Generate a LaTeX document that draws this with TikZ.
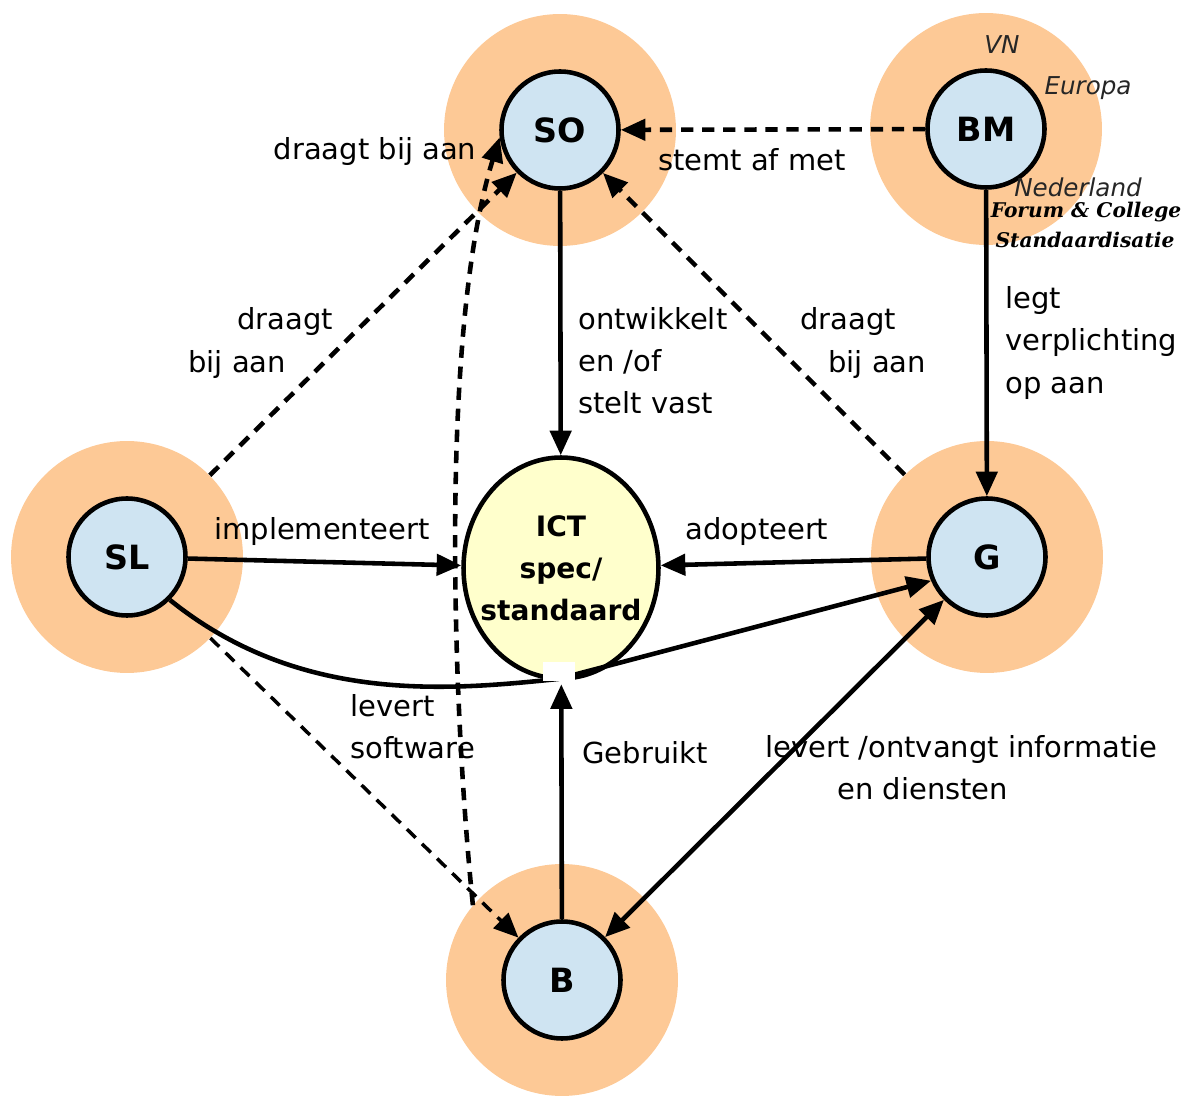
\documentclass[tikz,border=0pt]{standalone}
\usepackage{fontspec}
\setmainfont{DejaVu Sans}
\newfontfamily\forumfont{DejaVu Serif}
\usetikzlibrary{arrows.meta,shapes.geometric}
\definecolor{halokleur}{RGB}{253,201,150}
\definecolor{rolkleur}{RGB}{207,228,242}
\definecolor{standkleur}{RGB}{255,255,204}

\begin{document}
\begin{tikzpicture}[x=0.02cm, y=-0.02cm,
    halo/.style={circle, fill=halokleur, minimum size=4.64cm, inner sep=0pt},
    rol/.style={circle, draw, line width=2.6pt, fill=rolkleur, minimum size=2.34cm, inner sep=0pt,
      font=\fontsize{19}{22}\selectfont\bfseries},
    spec/.style={ellipse, draw, line width=2.6pt, fill=standkleur, minimum width=3.9cm,
      minimum height=4.42cm, inner xsep=-20pt, inner ysep=0pt, align=center,
      font=\fontsize{16}{24}\selectfont\bfseries},
    pijl/.style={line width=2.6pt, -{Triangle[length=14pt,width=12pt]}},
    stippel/.style={pijl, dash pattern=on 7pt off 5pt},
    lbl/.style={font=\fontsize{16.5}{24}\selectfont, align=left, inner sep=0pt},
    org/.style={font=\fontsize{14}{16}\selectfont\itshape, inner sep=0pt, text=black!85},
    forum/.style={font=\fontsize{11.5}{16}\selectfont\forumfont\bfseries\itshape, inner sep=0pt}]

  \useasboundingbox (0,0) rectangle (1184,1097);

  % rollen met hun schijf
  \foreach \n/\x/\y in {SO/560/130, BM/986/129, SL/127/557, G/987/557, B/562/980} {
    \node[halo] (h\n) at (\x,\y) {};
    \node[rol] (\n) at (\x,\y) {\n};
  };
  \node[spec] (ICT) at (561,568) {ICT\\spec/\\standaard};

  % relaties
  \draw[pijl] (SO) -- (ICT);
  \draw[stippel] (BM) -- (SO);
  \draw[pijl] (BM) -- (G);
  \draw[pijl] (SL) -- (ICT);
  \draw[pijl] (G) -- (ICT);
  \draw[line width=2.6pt, {Triangle[length=14pt,width=12pt]}-{Triangle[length=14pt,width=12pt]}] (G) -- (B);
  \draw[stippel] (hSL) -- (SO);
  \draw[stippel] (hG) -- (SO);
  \draw[stippel, line width=2pt] (hSL) -- (B);
  \draw[stippel] (hB.140) .. controls (452,700) and (440,330) .. (SO.187);
  \coordinate (knik) at (558,679);
  \draw[pijl] (SL.-45) .. controls (300,705) and (450,690) .. (knik) -- (G.203);
  \fill[white] (543,662) rectangle (575,681);
  \draw[pijl, shorten >=2pt] (B) -- (ICT);

  % teksten
  \node[lbl] (lDraagtSO) at (375,152) {draagt bij aan};
  \node[lbl] (lStemt) at (752,160) {stemt af met};
  \node[lbl, anchor=west] (lDraagtSL) at (188,343) {\hspace*{28pt}draagt\\bij aan};
  \node[lbl, anchor=west] (lDraagtG) at (800,343) {draagt\\\hspace*{16pt}bij aan};
  \node[lbl, anchor=west] (lOntw) at (578,361) {ontwikkelt\\en /of\\stelt vast};
  \node[lbl, anchor=west] (lLegt) at (1005,343) {legt\\verplichting\\op aan};
  \node[lbl] (lImpl) at (322,532) {implementeert};
  \node[lbl] (lAdopt) at (757,532) {adopteert};
  \node[lbl, anchor=west] (lSoft) at (350,727) {levert\\software};
  \node[lbl] (lGebr) at (645,753) {Gebruikt};
  \node[lbl, anchor=west] (lInfo) at (765,768) {levert /ontvangt informatie\\\hspace*{41pt}en diensten};
  \node[org] (lVN) at (1002,45) {VN};
  \node[org] (lEur) at (1088,88) {Europa};
  \node[org] (lNed) at (1078,187) {Nederland};
  \node[forum] (lForum) at (1086,212) {Forum \& College};
  \node[forum] (lStand) at (1085,240) {Standaardisatie};
\end{tikzpicture}
\end{document}
